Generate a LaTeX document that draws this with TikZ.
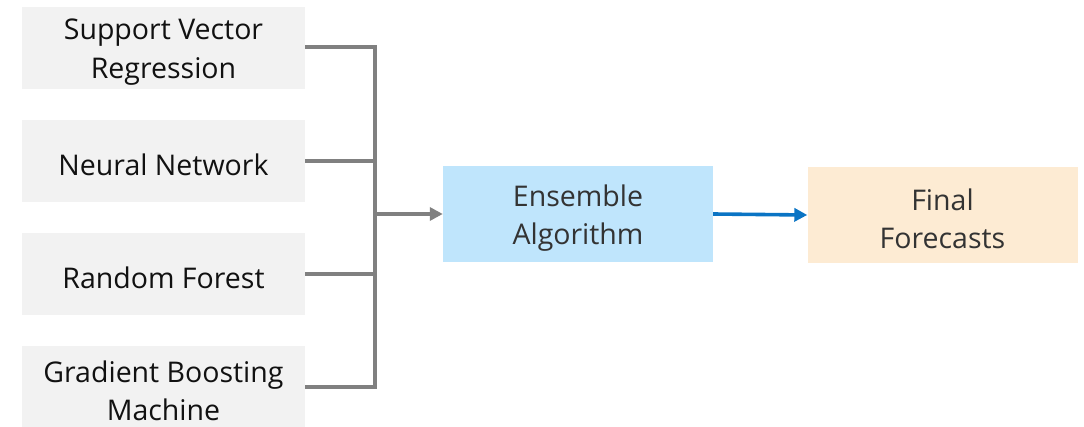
\documentclass[tikz,border=0pt]{standalone}
\usepackage{fontspec}
\setmainfont{Open Sans}
\usetikzlibrary{arrows.meta}
\definecolor{modelfill}{HTML}{F2F2F2}
\definecolor{ensfill}{HTML}{BFE5FC}
\definecolor{finalfill}{HTML}{FDEBD3}
\definecolor{linkgray}{HTML}{808080}
\definecolor{linkblue}{HTML}{0A74C4}
\definecolor{darktext}{HTML}{111111}
\definecolor{softtext}{HTML}{333333}
\begin{document}
\begin{tikzpicture}[x=1pt,y=-1pt,
  caption/.style={inner sep=0pt, align=center, yshift=-4pt,
    font=\fontsize{28.5}{38.5}\selectfont},
  modelbox/.style={inner sep=0pt, fill=modelfill,
    minimum width=283pt, minimum height=82pt},
  stagebox/.style={inner sep=0pt,
    minimum width=270pt, minimum height=96pt},
  graylink/.style={draw=linkgray, line width=3.6pt},
  bluelink/.style={draw=linkblue, line width=3.6pt,
    -{Triangle[length=13pt,width=13pt]}}
]
\useasboundingbox (0,0) rectangle (1084,427);

% model boxes on the left
\node[modelbox, label={[caption, text=darktext]center:Support Vector\\Regression}] (svr) at (163.5,48) {};
\node[modelbox, label={[caption, text=darktext]center:Neural Network}] (nn) at (163.5,161) {};
\node[modelbox, label={[caption, text=darktext]center:Random Forest}] (rf) at (163.5,274) {};
\node[modelbox, label={[caption, text=darktext]center:Gradient Boosting\\Machine}] (gbm) at (163.5,387) {};

% combining and output stages
\node[stagebox, fill=ensfill, label={[caption, text=softtext]center:Ensemble\\Algorithm}] (ens) at (578,214) {};
\node[stagebox, fill=finalfill, label={[caption, text=softtext]center:Final\\Forecasts}] (fin) at (942.5,215) {};

% bus collecting the model outputs
\coordinate (bustop) at (375,47);
\coordinate (busbot) at (375,387);
\coordinate (busmid) at (375,214);
\draw[graylink] (svr.east |- bustop) -- (bustop);
\draw[graylink] (nn.east) -- (nn.east -| bustop);
\draw[graylink] (rf.east) -- (rf.east -| bustop);
\draw[graylink] (gbm.east |- busbot) -- (busbot);
\draw[graylink, line cap=rect] (bustop) -- (busbot);
\draw[graylink, -{Triangle[length=13pt,width=13pt]}] (busmid) -- (ens.west);

% ensemble to final forecasts
\draw[bluelink] (ens.east) -- (fin.west);
\end{tikzpicture}
\end{document}
